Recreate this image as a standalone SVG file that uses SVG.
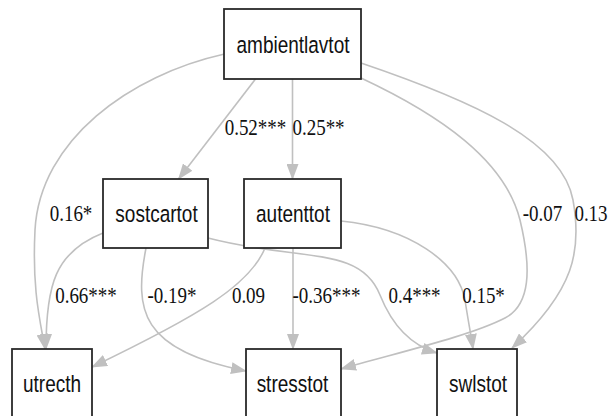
<svg xmlns="http://www.w3.org/2000/svg" width="609" height="416" viewBox="0 0 609 416">
<defs>
<marker id="ah" markerUnits="userSpaceOnUse" markerWidth="16" markerHeight="12" viewBox="0 0 16 12" refX="15" refY="6" orient="auto">
<path d="M0,0 L16,6 L0,12 z" fill="#c0c0c0"/>
</marker>
<style>
.box{fill:#fff;stroke:#2a2a2a;stroke-width:1.8}
.nt{font-family:"Liberation Sans",Arial,sans-serif;font-size:19px;fill:#111;text-anchor:middle}
.e{fill:none;stroke:#c0c0c0;stroke-width:1.6;marker-end:url(#ah)}
.lb{font-family:"Liberation Serif","Times New Roman",serif;font-size:19px;fill:#111;text-anchor:middle}
</style>
</defs>
<rect width="609" height="416" fill="#fff"/>
<g id="connectors">
<path class="e" d="M255.5,79 L178.6,179"/>
<path class="e" d="M292.5,79 L292.5,179"/>
<path class="e" d="M224.5,54 C130,75 40,140 35,230 C32,290 40,320 45,349"/>
<path class="e" d="M103,233 C55,252 46,285 46,349"/>
<path class="e" d="M146,248 C134,310 140,350 246,371"/>
<path class="e" d="M208,238 C300,262 360,245 380,295 C392,325 410,345 437,353"/>
<path class="e" d="M265,248 C250,285 200,315 92,367"/>
<path class="e" d="M293,248 L293,349"/>
<path class="e" d="M341,221 C410,228 458,262 465,300 C468,320 471,335 473,349"/>
<path class="e" d="M361,78 C440,115 505,160 520,220 C532,270 530,305 505,318 C470,336 400,352 341,369"/>
<path class="e" d="M361,63 C470,100 562,140 573,200 C582,250 575,290 512,348"/>
<text class="lb" transform="translate(255.5,135) scale(1,1.24)">0.52***</text>
<text class="lb" transform="translate(318.5,135) scale(1,1.24)">0.25**</text>
<text class="lb" transform="translate(71,221) scale(1,1.24)">0.16*</text>
<text class="lb" transform="translate(542.5,221) scale(1,1.24)">-0.07</text>
<text class="lb" transform="translate(591,221) scale(1,1.24)">0.13</text>
<text class="lb" transform="translate(86,303) scale(1,1.24)">0.66***</text>
<text class="lb" transform="translate(172,303) scale(1,1.24)">-0.19*</text>
<text class="lb" transform="translate(248.5,303) scale(1,1.24)">0.09</text>
<text class="lb" transform="translate(326.5,303) scale(1,1.24)">-0.36***</text>
<text class="lb" transform="translate(414.5,303) scale(1,1.24)">0.4***</text>
<text class="lb" transform="translate(483.5,303) scale(1,1.24)">0.15*</text>
</g>
<g id="ambientlavtot">
<rect class="box" x="224" y="9" width="137" height="70"/>
<text class="nt" transform="translate(293,53) scale(1,1.27)">ambientlavtot</text>
</g>
<g id="sostcartot">
<rect class="box" x="103" y="179" width="105" height="69"/>
<text class="nt" transform="translate(156.5,222) scale(1,1.27)">sostcartot</text>
</g>
<g id="autenttot">
<rect class="box" x="244" y="179" width="97" height="69"/>
<text class="nt" transform="translate(293,222) scale(1,1.27)">autenttot</text>
</g>
<g id="utrecth">
<rect class="box" x="12" y="349" width="80" height="90"/>
<text class="nt" transform="translate(52,392) scale(1,1.27)">utrecth</text>
</g>
<g id="stresstot">
<rect class="box" x="246" y="349" width="95" height="90"/>
<text class="nt" transform="translate(292.5,392) scale(1,1.27)">stresstot</text>
</g>
<g id="swlstot">
<rect class="box" x="437" y="349" width="80" height="90"/>
<text class="nt" transform="translate(478,392) scale(1,1.27)">swlstot</text>
</g>
</svg>
